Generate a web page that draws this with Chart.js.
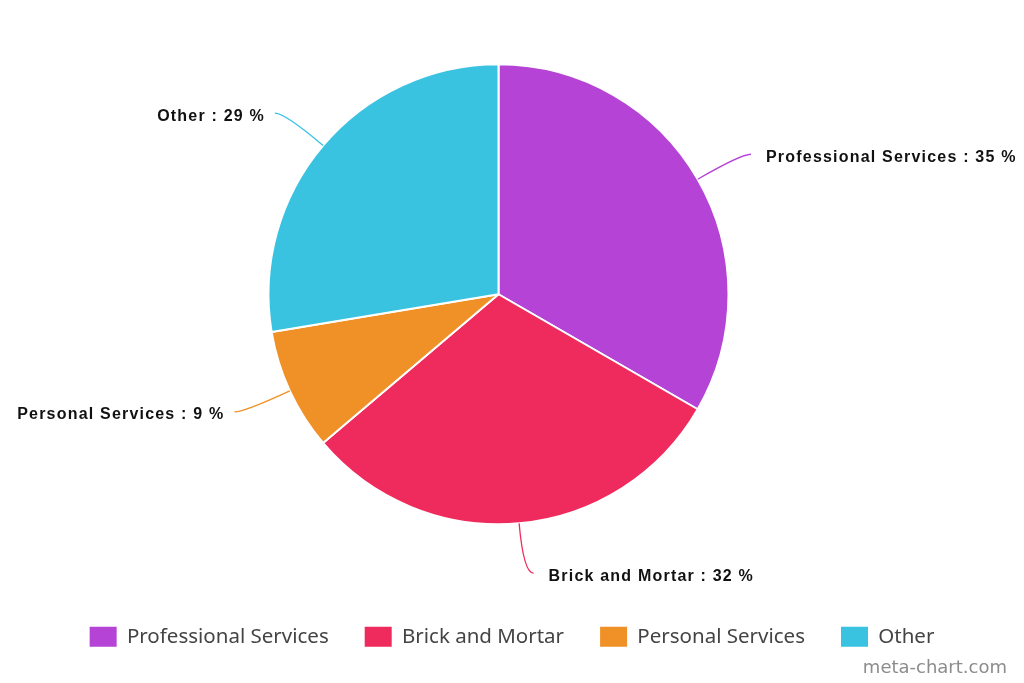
<!DOCTYPE html>
<html>
<head>
<meta charset="utf-8">
<title>Pie chart</title>
<script src="https://cdn.jsdelivr.net/npm/chart.js@4.4.0/dist/chart.umd.min.js"></script>
<style>
  html, body { margin: 0; padding: 0; background: #fff; }
  #wrap { position: relative; width: 1024px; height: 683px; }
  #credit { position: absolute; right: 17px; top: 656px; font: 18px "DejaVu Sans", sans-serif; color: #8c8c8c; }
</style>
</head>
<body>
<div id="wrap">
  <canvas id="pieChart" width="1024" height="683"></canvas>
  <div id="credit">meta-chart.com</div>
</div>
<script>
// data
var categories = ['Professional Services', 'Brick and Mortar', 'Personal Services', 'Other'];
var values = [35, 32, 9, 29];
var sliceColors = ['#b543d6', '#ef2a5c', '#ef9126', '#39c3e1'];

// move pie a bit left/up of the plot area centre, legend stays centred
var shiftPie = {
    id: 'shiftPie',
    afterLayout: function (chart) {
        chart.chartArea.left -= 13.5;
        chart.chartArea.right -= 13.5;
        chart.chartArea.top -= 1;
        chart.chartArea.bottom -= 1;
    }
};

// labels outside the pie with curved leader lines
var outsideLabels = {
    id: 'outsideLabels',
    afterDatasetsDraw: function (chart) {
        var ctx = chart.ctx;
        var meta = chart.getDatasetMeta(0);
        ctx.save();
        meta.data.forEach(function (arc, i) {
            var p = arc.getProps(['x', 'y', 'startAngle', 'endAngle', 'outerRadius'], true);
            var mid = (p.startAngle + p.endAngle) / 2;
            var dx = Math.cos(mid), dy = Math.sin(mid);
            var r = p.outerRadius;
            var side = dx >= 0 ? 1 : -1;
            var ex = p.x + r * dx, ey = p.y + r * dy;
            var kx = p.x + (r + 50) * dx, ky = p.y + (r + 50) * dy;
            var tx = kx + side * 10;

            ctx.strokeStyle = sliceColors[i];
            ctx.lineWidth = 1.3;
            ctx.beginPath();
            ctx.moveTo(ex, ey);
            ctx.quadraticCurveTo(kx, ky, tx, ky);
            ctx.stroke();

            ctx.fillStyle = '#111';
            ctx.font = 'bold 16px "Liberation Sans", Arial, sans-serif';
            ctx.letterSpacing = '1.2px';
            ctx.textBaseline = 'middle';
            ctx.textAlign = side > 0 ? 'left' : 'right';
            var gap = side > 0 ? 15 : 10;
            ctx.fillText(categories[i] + ' : ' + values[i] + ' %', tx + side * gap, ky + 3);
        });
        ctx.restore();
    }
};

var ctx1 = document.getElementById('pieChart');
var pieChart = new Chart(ctx1, {
    type: 'pie',
    data: {
        labels: categories,
        datasets: [{
            data: values,
            backgroundColor: sliceColors,
            borderColor: '#ffffff',
            borderWidth: 2
        }]
    },
    options: {
        responsive: false,
        animation: false,
        radius: 230,
        layout: {
            padding: { top: 0, bottom: 26, left: 0, right: 0 }
        },
        plugins: {
            legend: {
                position: 'bottom',
                labels: {
                    boxWidth: 27,
                    boxHeight: 20,
                    padding: 36,
                    color: '#444444',
                    font: { family: '"Noto Sans", sans-serif', size: 20.5 },
                    generateLabels: function (chart) {
                        var items = Chart.overrides.pie.plugins.legend.labels.generateLabels(chart);
                        items.forEach(function (it) { it.lineWidth = 0; });
                        return items;
                    }
                }
            },
            tooltip: { enabled: false }
        }
    },
    plugins: [shiftPie, outsideLabels]
});
</script>
</body>
</html>
